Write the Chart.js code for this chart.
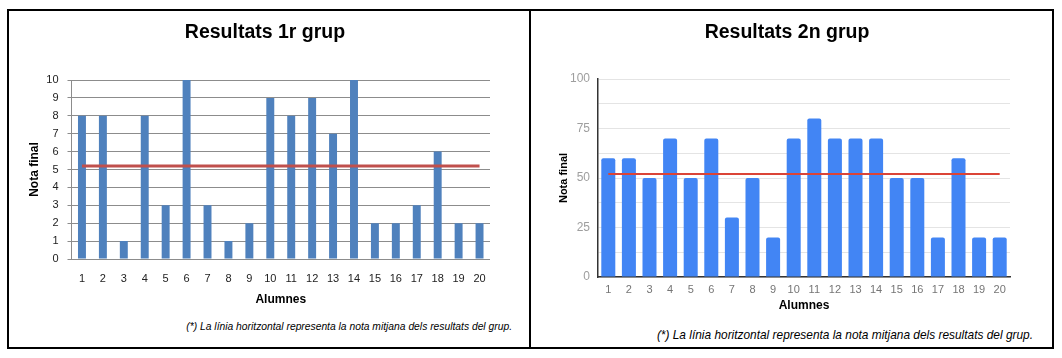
<!DOCTYPE html>
<html>
<head>
<meta charset="utf-8">
<script src="https://cdn.jsdelivr.net/npm/chart.js@4.4.1/dist/chart.umd.min.js"></script>
<style>
  html, body { margin: 0; padding: 0; background: #fff; }
  body { width: 1062px; height: 358px; position: relative; overflow: hidden; font-family: 'Liberation Sans', Arial, sans-serif; }
  #frame { position: absolute; left: 7px; top: 9px; width: 1047px; height: 340px; box-sizing: border-box; border: 2px solid #000; }
  #divider { position: absolute; left: 529px; top: 9px; width: 2px; height: 340px; background: #000; }
  canvas { position: absolute; }
  #c1 { left: 9px; top: 11px; }
  #c2 { left: 532px; top: 11px; }
  .note { position: absolute; font-style: italic; white-space: nowrap; text-align: right; color: #000; }
  #n1 { left: 9px; width: 503px; top: 321px; font-size: 10.3px; line-height: 12px; }
  #n2 { left: 532px; width: 501px; top: 328px; font-size: 11.9px; line-height: 14px; }
</style>
</head>
<body>
<div id="frame"></div>
<div id="divider"></div>
<canvas id="c1" width="519" height="300"></canvas>
<canvas id="c2" width="520" height="310"></canvas>
<div class="note" id="n1">(*) La línia horitzontal representa la nota mitjana dels resultats del grup.</div>
<div class="note" id="n2">(*) La línia horitzontal representa la nota mitjana dels resultats del grup.</div>
<script>
// ---- data ----
const alumnes = ['1','2','3','4','5','6','7','8','9','10','11','12','13','14','15','16','17','18','19','20'];
const notes1 = [8, 8, 1, 8, 3, 10, 3, 1, 2, 9, 8, 9, 7, 10, 2, 2, 3, 6, 2, 2];
const mitjana1 = [5.2, 5.2, 5.2, 5.2, 5.2, 5.2, 5.2, 5.2, 5.2, 5.2, 5.2, 5.2, 5.2, 5.2, 5.2, 5.2, 5.2, 5.2, 5.2, 5.2];
const notes2 = [60, 60, 50, 70, 50, 70, 30, 50, 20, 70, 80, 70, 70, 70, 50, 50, 20, 60, 20, 20];
const mitjana2 = [52, 52, 52, 52, 52, 52, 52, 52, 52, 52, 52, 52, 52, 52, 52, 52, 52, 52, 52, 52];
const title1 = 'Resultats 1r grup';
const title2 = 'Resultats 2n grup';
const yTitle = 'Nota final';
const xTitle = 'Alumnes';

Chart.defaults.font.family = "'Liberation Sans', Arial, sans-serif";
Chart.defaults.color = '#000';

// empty right-side spacer axis (keeps title centred on the whole panel)
function spacer(w) {
  return {
    position: 'right', display: true, min: 0, max: 1,
    grid: { display: false, drawTicks: false }, border: { display: false },
    ticks: { display: false }, title: { display: false },
    afterFit: s => { s.width = w; }
  };
}

// ---- chart 1 (Excel style) ----
new Chart(document.getElementById('c1'), {
  type: 'bar',
  data: {
    labels: alumnes,
    datasets: [
      { type: 'line', data: mitjana1, borderColor: '#C0504D', borderWidth: 3, pointRadius: 0, fill: false, order: 0 },
      { type: 'bar', data: notes1, backgroundColor: '#4F81BD', barPercentage: 0.38, categoryPercentage: 1, order: 1 }
    ]
  },
  options: {
    responsive: false, animation: false, devicePixelRatio: 1,
    layout: { padding: { left: 0, right: 7, top: 0, bottom: 0 } },
    plugins: {
      legend: { display: false }, tooltip: { enabled: false },
      title: { display: true, text: title1, color: '#000', font: { size: 19.5, weight: 'bold' }, padding: { top: 10.3, bottom: 35.3 } }
    },
    scales: {
      x: {
        grid: { display: false, drawTicks: false },
        border: { display: false },
        ticks: { padding: 13, color: '#222', font: { size: 11 }, maxRotation: 0, autoSkip: false },
        title: { display: true, text: xTitle, color: '#000', font: { size: 12, weight: 'bold' }, padding: { top: 0, bottom: 3.8 } },
        afterFit: s => { s.height = 52; }
      },
      y: {
        min: 0, max: 10,
        ticks: { stepSize: 1, padding: 9, color: '#222', font: { size: 11 } },
        grid: { color: '#8c8c8c', lineWidth: 1, tickLength: 4, drawTicks: true },
        border: { display: true, color: '#8c8c8c', width: 1 },
        title: { display: true, text: yTitle, color: '#000', font: { size: 12, weight: 'bold' }, padding: { top: 18.8, bottom: 0 } },
        afterFit: s => { s.width = 62.5; }
      },
      yr: spacer(31)
    }
  }
});

// ---- chart 2 (Google style) ----
new Chart(document.getElementById('c2'), {
  type: 'bar',
  data: {
    labels: alumnes,
    datasets: [
      { type: 'line', data: mitjana2, borderColor: '#DB4437', borderWidth: 2, pointRadius: 0, fill: false, order: 0 },
      { type: 'bar', data: notes2, backgroundColor: '#4285F4', borderRadius: { topLeft: 2, topRight: 2 }, borderSkipped: 'bottom', barPercentage: 0.68, categoryPercentage: 1, order: 1 }
    ]
  },
  options: {
    responsive: false, animation: false, devicePixelRatio: 1,
    layout: { padding: { left: 0, right: 10, top: 0, bottom: 0 } },
    plugins: {
      legend: { display: false }, tooltip: { enabled: false },
      title: { display: true, text: title2, color: '#000', font: { size: 19.5, weight: 'bold' }, padding: { top: 10.3, bottom: 34.3 } }
    },
    scales: {
      x: {
        grid: { display: false, drawTicks: false },
        border: { display: true, color: '#333', width: 1.5 },
        ticks: { padding: 6, color: '#757575', font: { size: 11 }, maxRotation: 0, autoSkip: false },
        title: { display: true, text: xTitle, color: '#000', font: { size: 12, weight: 'bold' }, padding: { top: 0, bottom: 7.8 } },
        afterFit: s => { s.height = 44; }
      },
      y: {
        min: 0, max: 100,
        ticks: { stepSize: 12.5, padding: 8, color: '#9e9e9e', font: { size: 12 },
                 callback: v => (v % 25 === 0 ? String(v) : '') },
        grid: { color: '#e4e4e4', lineWidth: 1, drawTicks: false },
        border: { display: true, color: '#333', width: 1.5 },
        title: { display: true, text: yTitle, color: '#000', font: { size: 11, weight: 'bold' }, padding: { top: 25.7, bottom: 0 } },
        afterFit: s => { s.width = 66; }
      },
      yr: spacer(32)
    }
  }
});
</script>
</body>
</html>
